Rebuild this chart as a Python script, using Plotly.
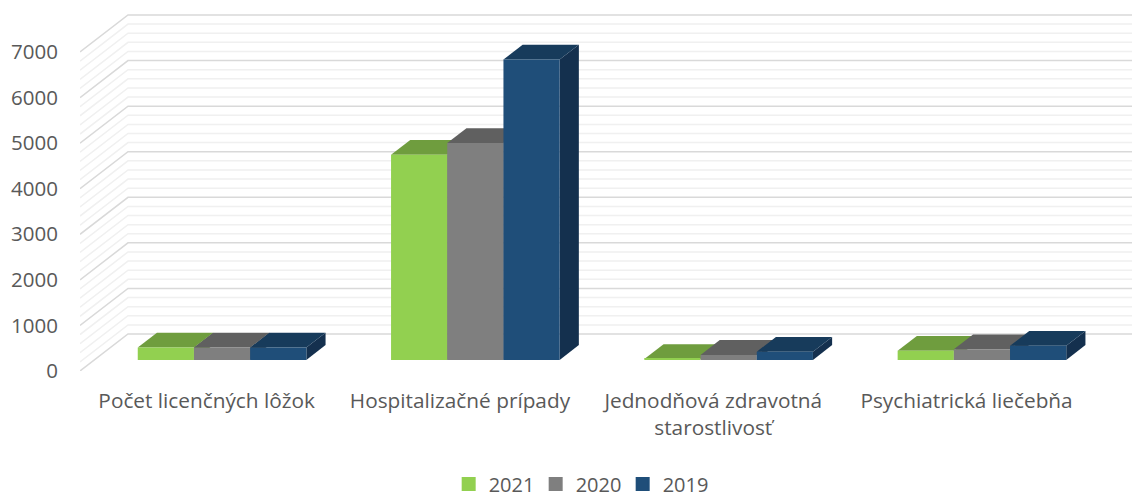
import plotly.graph_objects as go

categories = ["Počet licenčných lôžok", "Hospitalizačné prípady",
              "Jednodňová zdravotná<br>starostlivosť", "Psychiatrická liečebňa"]
series_names = ["2021", "2020", "2019"]
values_2021 = [270, 4500, 20, 200]
values_2020 = [270, 4760, 110, 235]
values_2019 = [270, 6590, 180, 310]
value_ticks = [0, 1000, 2000, 3000, 4000, 5000, 6000, 7000]
minor_ticks = [v for v in range(0, 7000, 200) if v % 1000 != 0]

front_colors = ["#92D050", "#7F7F7F", "#1F4E79"]
top_colors = ["#6F9D3E", "#606060", "#173B5B"]
side_colors = ["#587D31", "#4C4C4C", "#14304E"]

PX_PER_CAT = 253.3
PX_PER_VAL = 45.57 / 1000
DEPTH_X = 48 / PX_PER_CAT
DEPTH_Y = 37 / PX_PER_VAL
FLOOR_X0 = -0.5
X_MAX = FLOOR_X0 + 1052 / PX_PER_CAT
Y_MAX = 361 / PX_PER_VAL
BAR_W = 56.2 / PX_PER_CAT
BAR_FRONT = 0.3
BAR_DEPTH = 0.4
BAR_X = BAR_FRONT * DEPTH_X + 1 / PX_PER_CAT

fig = go.Figure()


def wall_lines(vals, color, width):
    xs, ys = [], []
    for v in vals:
        xs += [FLOOR_X0, FLOOR_X0 + DEPTH_X, X_MAX, None]
        ys += [v, v + DEPTH_Y, v + DEPTH_Y, None]
    fig.add_trace(go.Scatter(x=xs, y=ys, mode="lines", showlegend=False, hoverinfo="skip",
                             line=dict(color=color, width=width)))


wall_lines(minor_ticks, "#F0F0F0", 1.5)
wall_lines(value_ticks, "#D9D9D9", 1.5)

dx = BAR_DEPTH * DEPTH_X
dy = BAR_DEPTH * DEPTH_Y
base = BAR_FRONT * DEPTH_Y
all_values = [values_2021, values_2020, values_2019]

# Top and side faces sit behind the front faces, painted left to right.
for c in range(len(categories)):
    for s, vals in enumerate(all_values):
        xc = c + BAR_X + (s - 1) * BAR_W
        x0, x1 = xc - BAR_W / 2, xc + BAR_W / 2
        top = base + vals[c]
        fig.add_trace(go.Scatter(
            x=[x1, x1 + dx, x1 + dx, x1, x1], y=[base, base + dy, top + dy, top, base],
            mode="lines", fill="toself", fillcolor=side_colors[s], line=dict(width=0),
            showlegend=False, hoverinfo="skip"))
        fig.add_trace(go.Scatter(
            x=[x0, x1, x1 + dx, x0 + dx, x0], y=[top, top, top + dy, top + dy, top],
            mode="lines", fill="toself", fillcolor=top_colors[s], line=dict(width=0),
            showlegend=False, hoverinfo="skip"))

# Front faces are real bars on an overlaid pair of axes.
for s, vals in enumerate(all_values):
    fig.add_trace(go.Bar(
        x=[c + BAR_X + (s - 1) * BAR_W for c in range(len(categories))],
        y=vals, base=base, width=BAR_W, showlegend=False,
        marker=dict(color=front_colors[s], line=dict(width=0)),
        xaxis="x2", yaxis="y2"))
    fig.add_trace(go.Bar(
        x=[None], y=[None], name=series_names[s],
        marker=dict(color=front_colors[s], line=dict(width=2, color=front_colors[s])),
        xaxis="x2", yaxis="y2"))

fig.update_layout(
    width=1132, height=498, autosize=False,
    margin=dict(l=80, r=0, t=10, b=127, autoexpand=False),
    paper_bgcolor="white", plot_bgcolor="white",
    barmode="overlay",
    font=dict(family="Open Sans", color="#595959", size=18),
    xaxis=dict(range=[FLOOR_X0, X_MAX], tickmode="array", tickvals=list(range(len(categories))),
               ticktext=categories, showgrid=False, zeroline=False, showline=False, ticks="",
               ticklabelstandoff=15, tickfont=dict(size=20.8)),
    yaxis=dict(range=[0, Y_MAX], tickmode="array", tickvals=value_ticks, showgrid=False,
               zeroline=False, showline=False, ticks="", ticklabelstandoff=21,
               tickfont=dict(size=20.5)),
    xaxis2=dict(range=[FLOOR_X0, X_MAX], overlaying="x", visible=False),
    yaxis2=dict(range=[0, Y_MAX], overlaying="y", visible=False),
    legend=dict(orientation="h", x=0.4745, xanchor="center", y=-0.313, yanchor="middle",
                font=dict(size=20), itemclick=False, itemdoubleclick=False,
                entrywidthmode="pixels", entrywidth=42),
)

fig.write_html("out.html", post_script="document.body.style.margin='0';",
               config={"displayModeBar": False})
